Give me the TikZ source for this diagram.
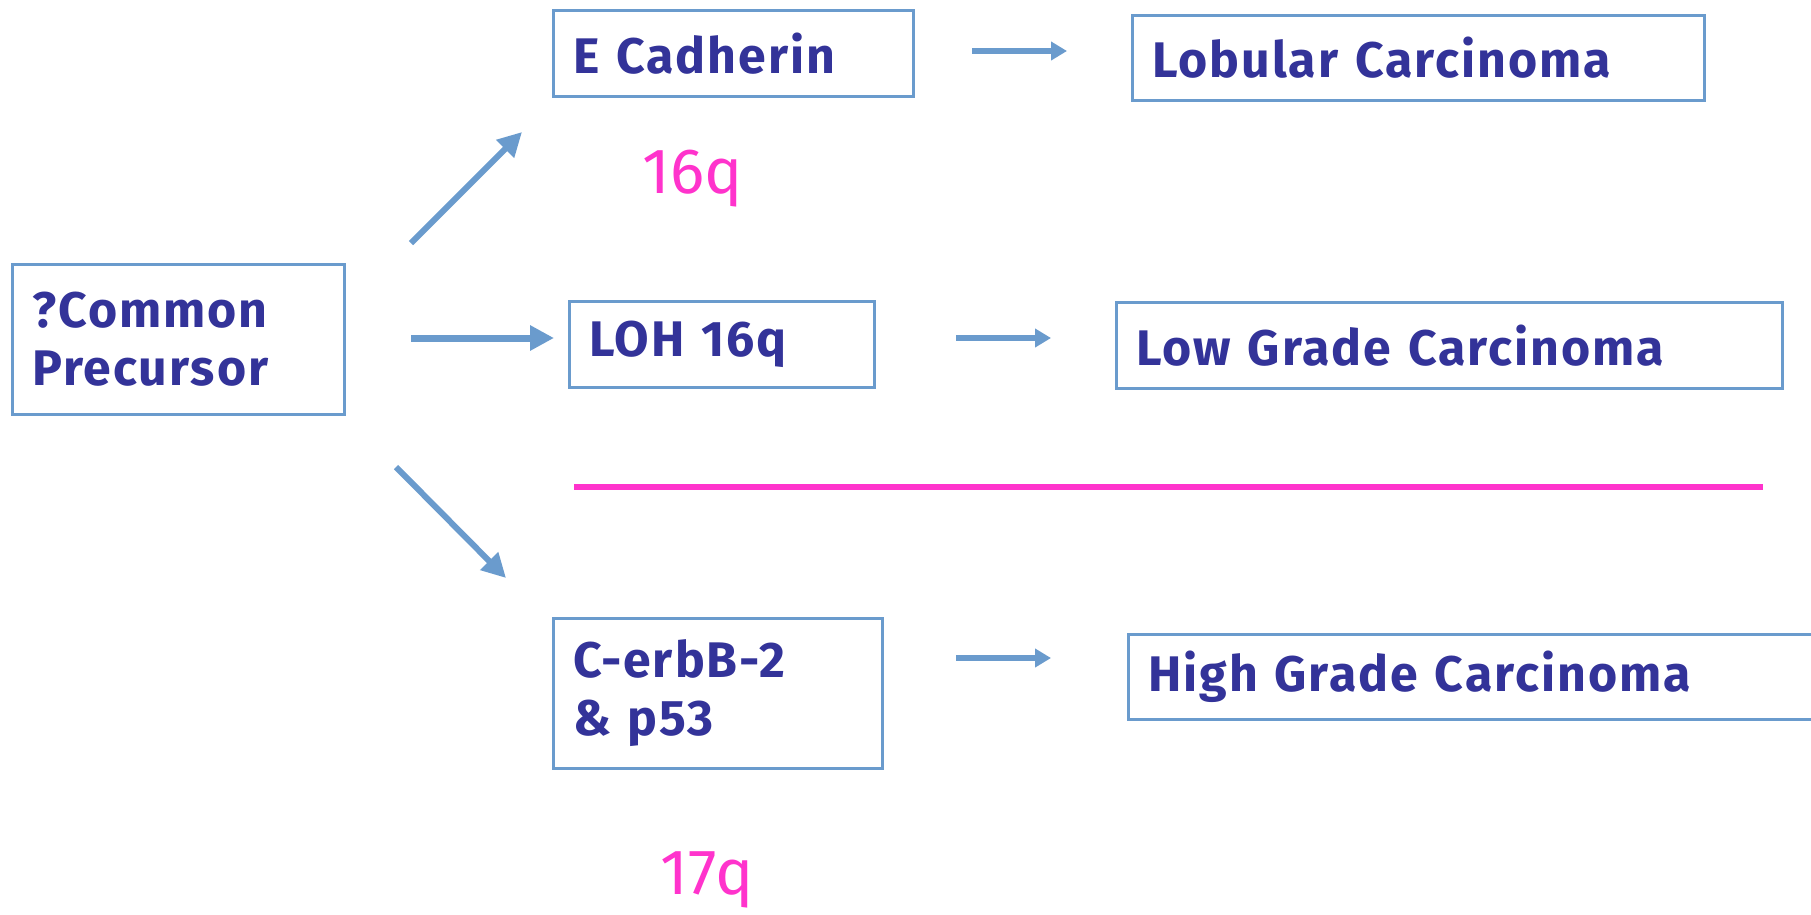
\documentclass[tikz,border=0pt]{standalone}
\usepackage{fontspec}
\setmainfont{Fira Sans}
\usetikzlibrary{arrows.meta}
\definecolor{boxblue}{HTML}{6A9BCD}
\definecolor{txtblue}{HTML}{333399}
\definecolor{pinkc}{HTML}{FF33CC}
\begin{document}
\begin{tikzpicture}[x=1pt,y=-1pt,
  box/.style={draw=boxblue, line width=2.5pt, anchor=north west, inner xsep=20pt, inner ysep=0pt,
    align=left, text=txtblue, font=\fontsize{50}{58}\selectfont\bfseries\addfontfeatures{LetterSpace=4}},
  pinklbl/.style={text=pinkc, font=\fontsize{64}{70}\selectfont},
  bigarrow/.style={draw=boxblue, line width=6pt, -{Triangle[length=24pt,width=24pt]}},
  smallarrow/.style={draw=boxblue, line width=5.5pt, -{Triangle[length=16pt,width=18pt]}}]
\useasboundingbox (0,0) rectangle (1811,914);
\fill[white] (0,0) rectangle (1811,914);

\node[box, text width=292pt, minimum height=150pt] (cp) at (11,263) {?Common\\Precursor};
\node[box, text width=320pt, minimum height=86pt] (ec) at (552,9) {E Cadherin};
\node[box, text width=532pt, minimum height=85pt] (lob) at (1131,14) {Lobular Carcinoma};
\node[box, text width=265pt, minimum height=86pt] (loh) at (568,300) {LOH 16q};
\node[box, text width=626pt, minimum height=86pt] (low) at (1115,301) {Low Grade Carcinoma};
\node[box, text width=289pt, minimum height=150pt] (erb) at (552,617) {C-erbB-2\\\& p53};
\node[box, text width=660pt, minimum height=85pt] (high) at (1127,633) {High Grade Carcinoma};

\node[pinklbl] (l16) at (693,179) {16q};
\node[pinklbl] (l17) at (707,880) {17q};

\coordinate (u1) at (411,243); \coordinate (u2) at (522,132);
\coordinate (m1) at (411,338); \coordinate (m2) at (554,338);
\coordinate (d1) at (396,467); \coordinate (d2) at (506,578);
\draw[bigarrow] (u1) -- (u2);
\draw[bigarrow, line width=7pt] (m1) -- (m2);
\draw[bigarrow] (d1) -- (d2);

\coordinate (s1a) at (972,51); \coordinate (s1b) at (1067,51);
\coordinate (s2a) at (956,338); \coordinate (s2b) at (1051,338);
\coordinate (s3a) at (956,658); \coordinate (s3b) at (1051,658);
\draw[smallarrow] (s1a) -- (s1b);
\draw[smallarrow] (s2a) -- (s2b);
\draw[smallarrow] (s3a) -- (s3b);

\coordinate (p1) at (574,487); \coordinate (p2) at (1763,487);
\draw[pinkc, line width=6pt] (p1) -- (p2);
\end{tikzpicture}
\end{document}
